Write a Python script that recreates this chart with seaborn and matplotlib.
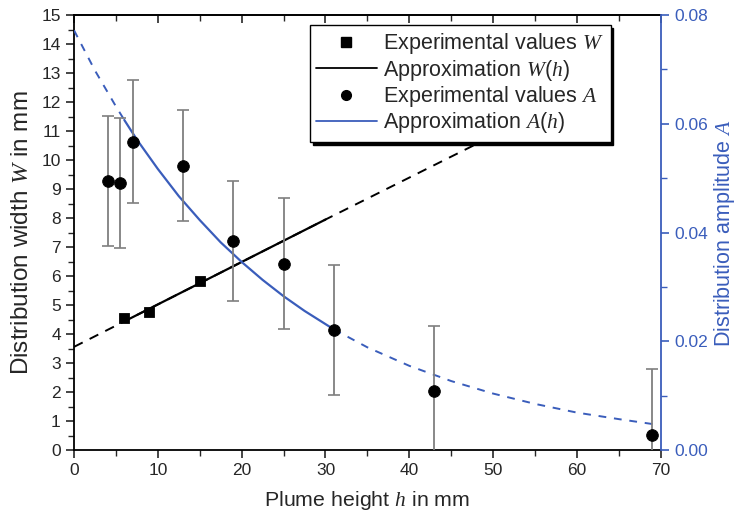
import numpy as np
import pandas as pd
import matplotlib
matplotlib.use("Agg")
import matplotlib.pyplot as plt
from matplotlib.lines import Line2D
from matplotlib.ticker import MultipleLocator, FormatStrFormatter
import seaborn as sns

# ---- data ----
h_W = [6, 9, 15]
W_exp = [4.56, 4.76, 5.84]

h_Wfit = [0, 30, 50.4]
W_fit = [3.56, 7.95, 10.9]
W_solid_range = (6, 30)

h_A = [4, 5.5, 7, 13, 19, 25, 31, 43, 69]
A_exp = [0.0495, 0.0491, 0.0567, 0.0523, 0.0384, 0.0343, 0.0221, 0.0109, 0.0028]
A_err = [0.0119, 0.0120, 0.0113, 0.0102, 0.0110, 0.0120, 0.0119, 0.0120, 0.0122]

h_Afit = [0, 2.5, 5, 6, 7.5, 10, 12.5, 15, 17.5, 20, 22.5, 25, 27.5, 31,
          35, 40, 45, 50, 55, 60, 65, 69]
A_fit = [0.0772, 0.0698, 0.0632, 0.0607, 0.0571, 0.0517, 0.0467, 0.0423,
         0.0382, 0.0346, 0.0313, 0.0283, 0.0256, 0.0222,
         0.0189, 0.0155, 0.0127, 0.0104, 0.0085, 0.0069, 0.0057, 0.0048]
A_solid_range = (6, 31)

BLUE = "#3a5dbb"
GRAY = "#7f7f7f"

sns.set_style("ticks")
plt.rcParams["font.family"] = ["Liberation Sans", "DejaVu Sans"]
plt.rcParams["mathtext.fontset"] = "custom"
plt.rcParams["mathtext.rm"] = "Liberation Sans"
plt.rcParams["mathtext.it"] = "Liberation Serif:italic"

fig = plt.figure(figsize=(7.4, 5.18), dpi=100)
ax = fig.add_axes([0.1, 0.131, 0.793, 0.84])
ax2 = ax.twinx()

# W line: dashed full, solid middle
wdf = pd.DataFrame({"h": h_Wfit, "W": W_fit})
sns.lineplot(data=wdf, x="h", y="W", ax=ax, color="k", lw=1.4, ls=(0, (5, 4)))
w_lo, w_hi = W_solid_range
slope = (W_fit[1] - W_fit[0]) / (h_Wfit[1] - h_Wfit[0])
wsolid = pd.DataFrame({"h": [w_lo, w_hi],
                       "W": [W_fit[0] + slope * w_lo, W_fit[0] + slope * w_hi]})
sns.lineplot(data=wsolid, x="h", y="W", ax=ax, color="k", lw=1.6)

sns.scatterplot(x=h_W, y=W_exp, ax=ax, marker="s", s=55, color="k",
                edgecolor="k", zorder=5)

# A curve
adf = pd.DataFrame({"h": h_Afit, "A": A_fit})
lo, hi = A_solid_range
sns.lineplot(data=adf[adf.h <= lo], x="h", y="A", ax=ax2, color=BLUE, lw=1.4,
             ls=(0, (4, 4)))
sns.lineplot(data=adf[adf.h >= hi], x="h", y="A", ax=ax2, color=BLUE, lw=1.4,
             ls=(0, (4, 4)))
sns.lineplot(data=adf[(adf.h >= lo) & (adf.h <= hi)], x="h", y="A", ax=ax2,
             color=BLUE, lw=1.6)

ax2.errorbar(h_A, A_exp, yerr=A_err, fmt="none", ecolor=GRAY, elinewidth=1.3,
             capsize=4, capthick=1.2, zorder=3)
sns.scatterplot(x=h_A, y=A_exp, ax=ax2, marker="o", s=70, color="k",
                edgecolor="k", zorder=6)

# axes
ax.set_xlim(0, 70)
ax.set_ylim(0, 15)
ax2.set_ylim(0, 0.08)
ax.xaxis.set_major_locator(MultipleLocator(10))
ax.xaxis.set_minor_locator(MultipleLocator(5))
ax.yaxis.set_major_locator(MultipleLocator(1))
ax.yaxis.set_minor_locator(MultipleLocator(0.5))
ax2.yaxis.set_major_locator(MultipleLocator(0.02))
ax2.yaxis.set_minor_locator(MultipleLocator(0.01))
ax2.yaxis.set_major_formatter(FormatStrFormatter("%.2f"))

ax.tick_params(axis="both", which="both", direction="out", labelsize=12.5,
               top=False)
ax.tick_params(which="major", length=6, width=1.2)
ax.tick_params(which="minor", length=4, width=1.0)
ax2.tick_params(axis="y", which="both", direction="out", colors=BLUE,
                labelsize=12.5)
ax2.tick_params(which="major", length=6, width=1.2)
ax2.tick_params(which="minor", length=4, width=1.0)

for s in ["left", "bottom", "top"]:
    ax.spines[s].set_linewidth(1.3)
    ax.spines[s].set_color("k")
for s in ["left", "bottom", "top"]:
    ax2.spines[s].set_visible(False)
ax.spines["right"].set_visible(False)
ax2.spines["right"].set_color(BLUE)
ax2.spines["right"].set_linewidth(1.3)

# top ticks inward via secondary x-axis
sec = ax.secondary_xaxis("top")
sec.xaxis.set_major_locator(MultipleLocator(10))
sec.xaxis.set_minor_locator(MultipleLocator(5))
sec.tick_params(which="both", direction="in", labeltop=False)
sec.tick_params(which="major", length=6, width=1.2)
sec.tick_params(which="minor", length=4, width=1.0)
sec.spines["top"].set_linewidth(1.3)

ax.set_xlabel("Plume height $h$ in mm", fontsize=15.4, labelpad=8)
ax.set_ylabel("Distribution width $W$ in mm", fontsize=17.5, labelpad=6)
ax2.set_ylabel("Distribution amplitude $A$", fontsize=15.5, color=BLUE,
               labelpad=3)

handles = [
    Line2D([], [], marker="s", ls="none", color="k", markersize=7),
    Line2D([], [], color="k", lw=1.3),
    Line2D([], [], marker="o", ls="none", color="k", markersize=7),
    Line2D([], [], color=BLUE, lw=1.3),
]
labels = ["Experimental values $\\mathit{W}$", "Approximation $\\mathit{W(h)}$",
          "Experimental values $\\mathit{A}$", "Approximation $\\mathit{A(h)}$"]
leg = ax2.legend(handles, labels, loc="upper left",
                 bbox_to_anchor=(0.402, 0.977), borderaxespad=0,
                 fontsize=15.5, frameon=True, fancybox=False, framealpha=1,
                 edgecolor="k", handlelength=2.8, handletextpad=0.3,
                 labelspacing=0.06, borderpad=0.3,
                 shadow={"color": "k", "alpha": 1})
leg.get_frame().set_linewidth(1.0)
leg.set_zorder(10)

fig.savefig("out.png", dpi=100)
